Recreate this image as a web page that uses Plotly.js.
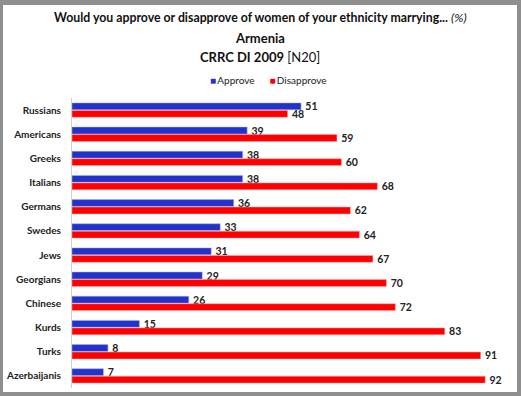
<!DOCTYPE html>
<html>
<head>
<meta charset="utf-8">
<script src="https://cdn.plot.ly/plotly-3.0.1.min.js"></script>
<style>
html,body{margin:0;padding:0;width:521px;height:396px;background:#8f8f8f;overflow:hidden;}
#chart{position:absolute;left:3px;top:5px;width:514px;height:387px;background:#fff;}
</style>
</head>
<body>
<div id="chart"></div>
<script>
const categories = ["Russians","Americans","Greeks","Italians","Germans","Swedes","Jews","Georgians","Chinese","Kurds","Turks","Azerbaijanis"];
const approve = [51,39,38,38,36,33,31,29,26,15,8,7];
const disapprove = [48,59,60,68,62,64,67,70,72,83,91,92];
const seriesNames = ["Approve","Disapprove"];
const seriesColors = ["#2233cc","#ff0000"];

const FONT = "Lato, 'Open Sans', sans-serif";
const labelFont = {family: FONT, size: 10.5, color: "#222", weight: "bold"};

const traces = [
  {type:"bar", orientation:"h", name:seriesNames[0], y:categories, x:approve,
   marker:{color:seriesColors[0], line:{color:"#aab0ee", width:0.5}},
   text:approve, texttemplate:"\u2009%{text}", textposition:"outside", constraintext:"none", textfont:labelFont, cliponaxis:false, hoverinfo:"none", showlegend:false},
  {type:"bar", orientation:"h", name:seriesNames[1], y:categories, x:disapprove,
   marker:{color:seriesColors[1], line:{color:"#ffaaaa", width:0.5}},
   text:disapprove, texttemplate:"\u2009%{text}", textposition:"outside", constraintext:"none", textfont:labelFont, cliponaxis:false, hoverinfo:"none", showlegend:false}
];

const cx = (262-72)/428;
const py = v => (388 - v)/290;
const legendText = '<span style="color:' + seriesColors[0] + '">■</span>\u2009' + seriesNames[0] +
  '\u2002\u2002\u2002<span style="color:' + seriesColors[1] + '">■</span>\u2009' + seriesNames[1];

const layout = {
  width:514, height:387,
  margin:{l:69, r:17, t:93, b:4, pad:0},
  paper_bgcolor:"#fff", plot_bgcolor:"#fff",
  font:{family:FONT, color:"#222"},
  barmode:"group", bargap:0.38, bargroupgap:0.08,
  showlegend:false,
  xaxis:{range:[0,95.3], showticklabels:false, showgrid:false, zeroline:false, showline:false, fixedrange:true},
  yaxis:{autorange:"reversed", showline:true, linecolor:"#d0d0d0", linewidth:1, ticks:"", showgrid:false,
         ticklabelstandoff:8,
         tickfont:{family:FONT, size:10, color:"#222", weight:"bold"}},
  annotations:[
    {xref:"paper", yref:"paper", x:(260-72)/428, y:py(17), showarrow:false, xanchor:"center", yanchor:"middle",
     text:"<b>Would you approve or disapprove of women of your ethnicity marrying...</b> <i>(%)</i>",
     font:{family:FONT, size:12.3, color:"#111"}},
    {xref:"paper", yref:"paper", x:(260-72)/428, y:py(38), showarrow:false, xanchor:"center", yanchor:"middle",
     text:"<b>Armenia</b>", font:{family:FONT, size:13, color:"#111"}},
    {xref:"paper", yref:"paper", x:(260-72)/428, y:py(57), showarrow:false, xanchor:"center", yanchor:"middle",
     text:"<b>CRRC DI 2009</b> [N20]", font:{family:FONT, size:13, color:"#111"}},
    {xref:"paper", yref:"paper", x:(268-72)/428, y:py(80), showarrow:false, xanchor:"center", yanchor:"middle",
     text:legendText, font:{family:FONT, size:10, color:"#222"}}
  ]
};

Plotly.newPlot("chart", traces, layout, {staticPlot:true, displayModeBar:false});
</script>
</body>
</html>
